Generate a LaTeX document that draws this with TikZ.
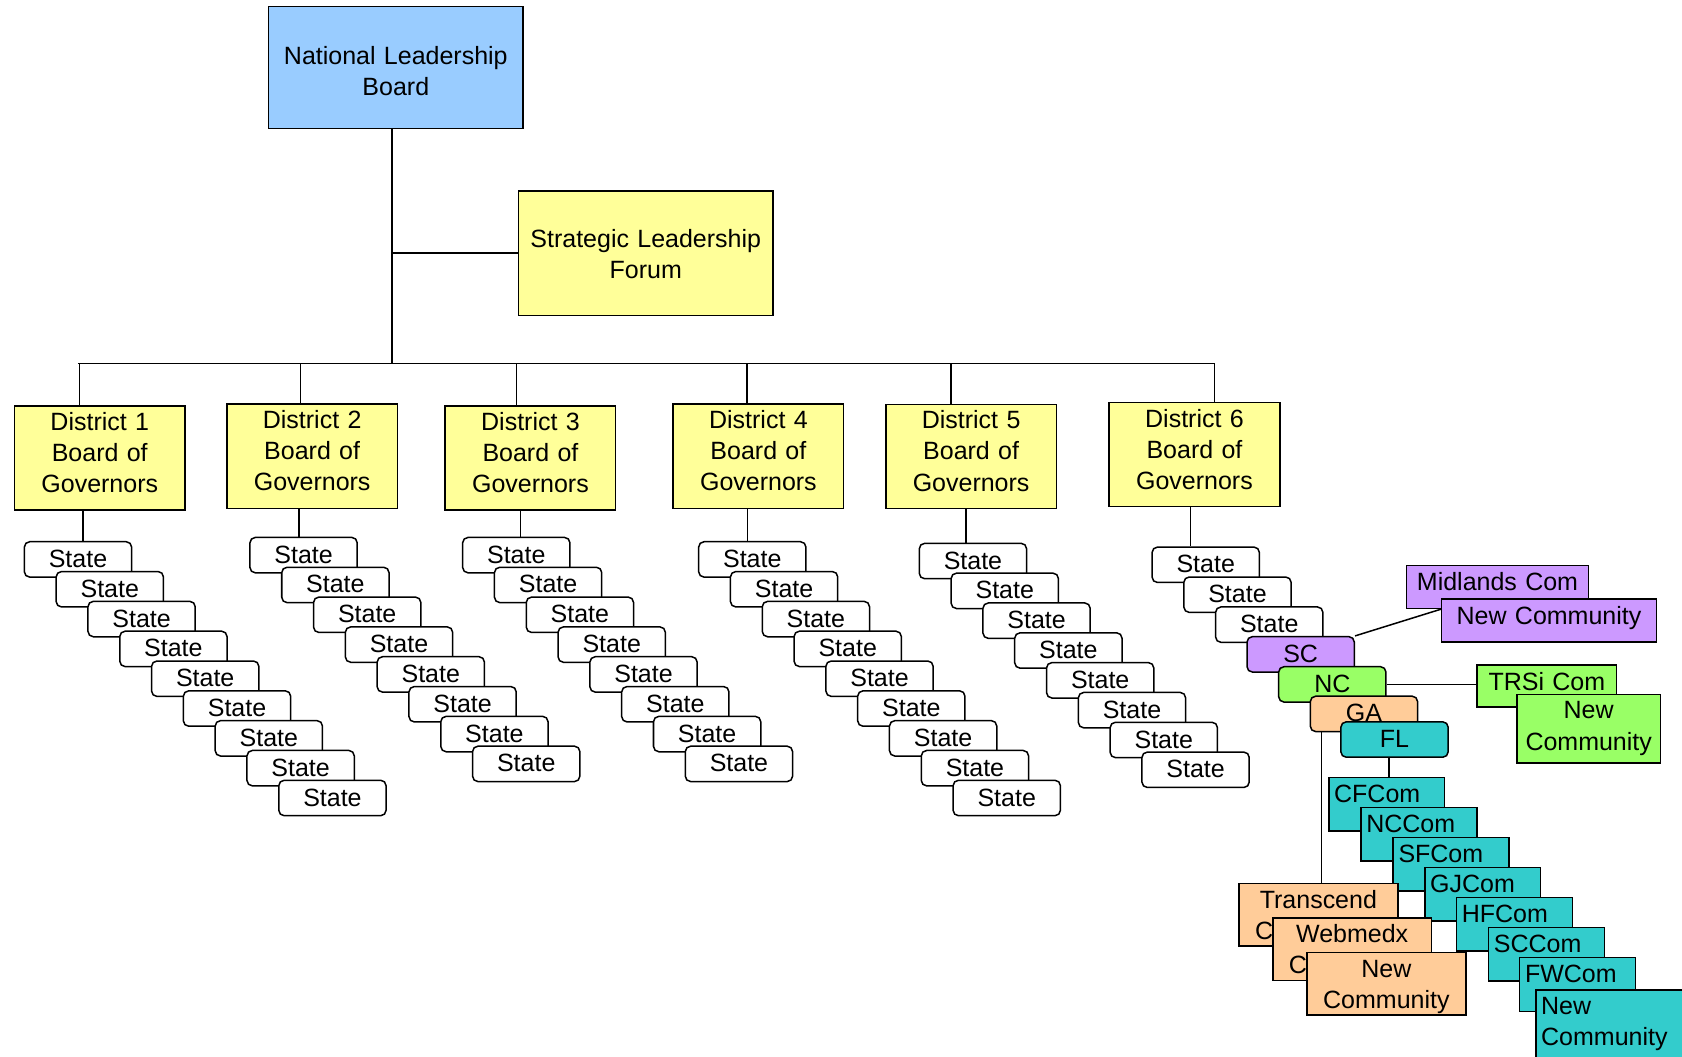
\documentclass[tikz,border=0pt]{standalone}
\usepackage{fontspec}
\setmainfont{Liberation Sans}

\definecolor{boardblue}{HTML}{99CCFF}
\definecolor{forumyellow}{HTML}{FFFF99}
\definecolor{scpurple}{HTML}{CC99FF}
\definecolor{ncgreen}{HTML}{99FF66}
\definecolor{gaorange}{HTML}{FFCC99}
\definecolor{flteal}{HTML}{33CCCC}
\newcommand{\chartfont}{\fontsize{23.3}{29}\selectfont}

\begin{document}
\begin{tikzpicture}[x=1pt, y=-1pt,
    box/.style={draw, line width=1.4pt, font=\chartfont, align=center, inner sep=0pt, text height=17pt},
    districtbox/.style={box, fill=forumyellow, text width=159pt, minimum height=97pt, text depth=68.2pt},
    statebox/.style={box, fill=white, rounded corners=5pt, text width=100pt, minimum height=33pt, text depth=2pt},
    combox/.style={box, anchor=north west, fill=flteal, text width=98pt, inner xsep=5pt,
        align=left, text height=23.3pt, text depth=26.7pt},
    orangebox/.style={box, fill=gaorange, text width=148pt, minimum height=58pt, text depth=29.3pt},
    link/.style={line width=1.4pt}]
    \useasboundingbox (0,0) rectangle (1568,985);
    \clip (0,0) rectangle (1568,985);

    % top of the chart
    \node[box, fill=boardblue, text width=237pt, minimum height=114pt, text depth=22.7pt] (nlb) at (369,63) {National Leadership\\Board};
    \node[box, fill=forumyellow, text width=237pt, minimum height=116pt, text depth=28pt] (slf) at (602,236) {Strategic Leadership\\Forum};
    \coordinate (busleft) at (72.5,338.7);
    \coordinate (busright) at (1132,338.7);
    \draw[link] ([xshift=-3.5pt]nlb.south) -- ([xshift=-3.5pt]nlb.south |- busleft);
    \draw[link] ([xshift=-3.5pt]nlb.south |- slf.west) -- (slf.west);
    \draw[link] (busleft) -- (busright);

    % districts
    \foreach \d/\x/\y/\up in {1/93/427/-19, 2/291/425.3/-11, 3/494.5/427/-13, 4/707/425.3/-10.5, 5/905.3/425.4/-19, 6/1113.5/423.7/18.5} {
        \node[districtbox] (d\d) at (\x,\y) {District \d\\Board of\\Governors};
        \draw[link] ([xshift=\up pt]d\d.north) -- ([xshift=\up pt]d\d.north |- busleft);
    }

    % states
    \foreach \d/\x/\y/\n in {1/72.7/521.5/9, 2/283/517.5/8, 3/481.3/517.5/8, 4/701.3/521.5/9, 5/907/523/8}
        \foreach \i in {1,...,\n}
            \node[statebox] (s\d-\i) at ({\x+(\i-1)*29.65},{\y+(\i-1)*27.8}) {State};
    \foreach \i in {1,2,3}
        \node[statebox] (s6-\i) at ({1124+(\i-1)*29.6},{526.5+(\i-1)*27.9}) {State};
    \foreach \d/\down in {1/-15.5, 2/-12.4, 3/-9.5, 4/-10.3, 5/-4.9, 6/-3.5}
        \draw[link] ([xshift=\down pt]d\d.south) -- ([xshift=\down pt]d\d.south |- s\d-1.north);

    \node[statebox, fill=scpurple] (sc) at (1212.5,610) {SC};
    \node[statebox, fill=ncgreen] (nc) at (1242,638) {NC};
    \node[statebox, fill=gaorange] (ga) at (1271.5,665.5) {GA};
    \node[statebox, fill=flteal] (fl) at (1300,689.4) {FL};

    % SC
    \node[box, fill=scpurple, text width=170pt, minimum height=40pt, text depth=10.1pt] (midlands) at (1396,547.2) {Midlands Com};
    \node[box, fill=scpurple, text width=200pt, minimum height=40pt, text depth=8.9pt] (scnew) at (1444,578.3) {New Community};
    \draw[link] (sc.north east) -- (scnew.west |- midlands.south);

    % NC
    \node[box, fill=ncgreen, text width=130pt, minimum height=39pt, text depth=7.5pt] (trsi) at (1442,639.4) {TRSi Com};
    \node[box, fill=ncgreen, text width=134pt, minimum height=64pt, text depth=35.5pt] (ncnew) at (1481,679.5) {New\\Community};
    \draw[link] (nc.east) -- (nc.east -| trsi.west);

    % FL
    \foreach \name/\x/\y in {CFCom/1238/724, NCCom/1268/752, SFCom/1298/780, GJCom/1327.5/808, HFCom/1357/836, SCCom/1387/864, FWCom/1416/892}
        \node[combox] (\name) at (\x,\y) {\name};
    \node[combox, text width=190pt, text depth=60pt] (flnew) at (1431,922) {New\\Community};
    \draw[link] ([xshift=2pt]CFCom.north) -- ([xshift=2pt]CFCom.north |- fl.south);

    % GA
    \node[orangebox] (transcend) at (1229,852.8) {Transcend\\Community};
    \node[orangebox] (webmedx) at (1260.5,885) {Webmedx\\Community};
    \node[orangebox] (ganew) at (1292.4,917) {New\\Community};
    \draw[link] ([xshift=3pt]transcend.north) -- ([xshift=3pt]transcend.north |- ga.south);
\end{tikzpicture}
\end{document}
